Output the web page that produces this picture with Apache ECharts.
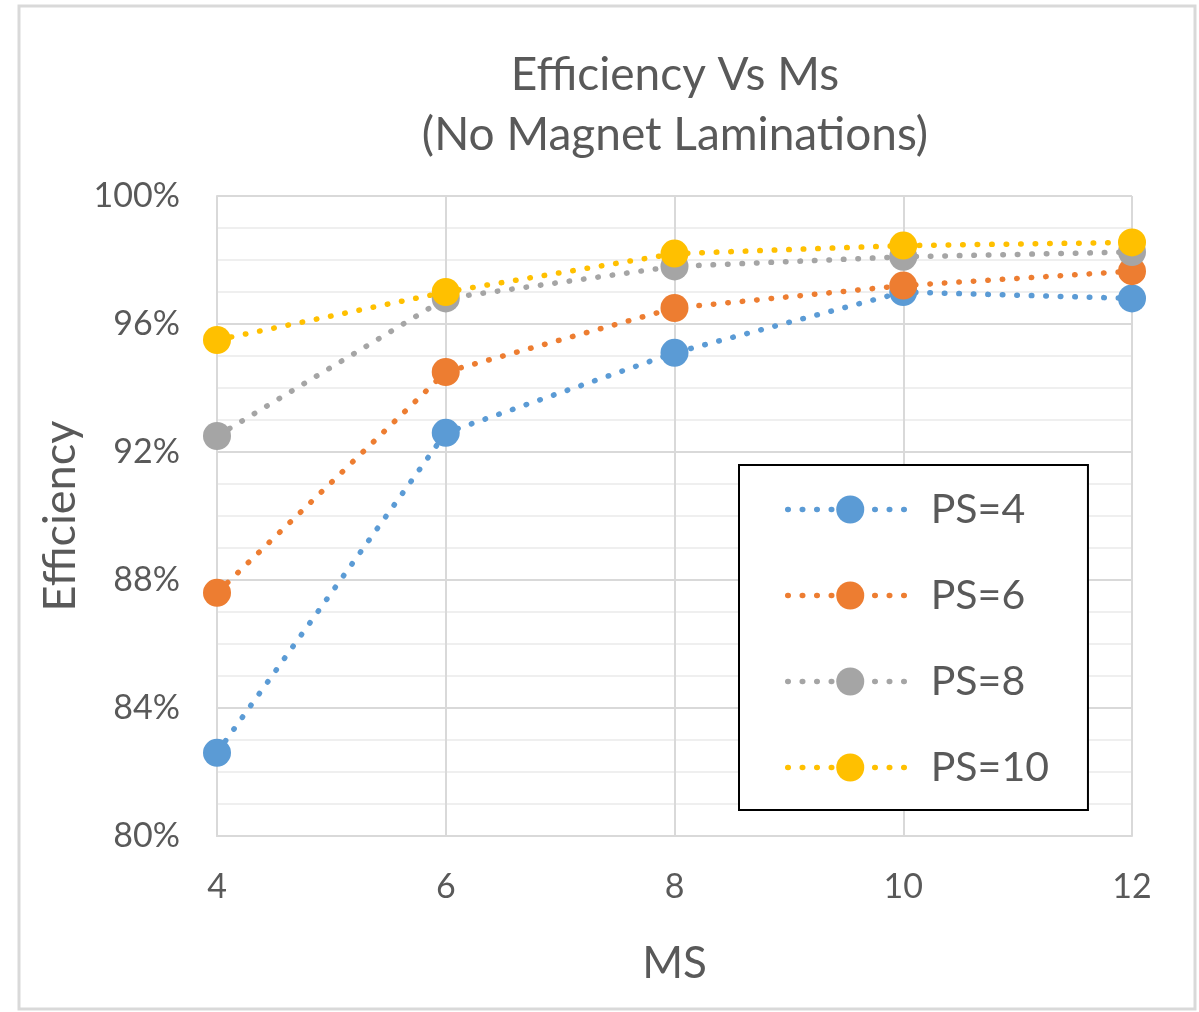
<!DOCTYPE html>
<html>
<head>
<meta charset="utf-8">
<script src="https://cdn.jsdelivr.net/npm/echarts@6/dist/echarts.min.js"></script>
<style>
  html, body { margin: 0; padding: 0; background: #fff; }
  #chart { width: 1199px; height: 1012px; }
</style>
</head>
<body>
<div id="chart"></div>
<script>
// MS values on the x axis
const msValues = [4, 6, 8, 10, 12];
// Efficiency (%) for each PS setting
const ps4 = [82.6, 92.6, 95.1, 97.0, 96.8];
const ps6 = [87.6, 94.5, 96.5, 97.2, 97.65];
const ps8 = [92.5, 96.8, 97.8, 98.1, 98.25];
const ps10 = [95.5, 97.0, 98.2, 98.45, 98.55];
const seriesNames = ['PS=4', 'PS=6', 'PS=8', 'PS=10'];
const seriesColors = ['#5B9BD5', '#ED7D31', '#A5A5A5', '#FFC000'];

const FONT = 'Lato, "Open Sans", sans-serif';
const TEXT = '#595959';
const GRID = '#d9d9d9';

const allSeries = [ps4, ps6, ps8, ps10];

const chart = echarts.init(document.getElementById('chart'));
chart.setOption({
  backgroundColor: '#fff',
  animation: false,
  title: {
    text: 'Efficiency Vs Ms\n(No Magnet Laminations)',
    left: 670,
    top: 40,
    textAlign: 'center',
    textStyle: {
      fontFamily: FONT,
      fontWeight: 'normal',
      fontSize: 46,
      lineHeight: 60,
      color: TEXT
    }
  },
  graphic: [{
    type: 'rect',
    shape: { x: 19, y: 6, width: 1176, height: 1003 },
    style: { fill: 'none', stroke: GRID, lineWidth: 3 },
    silent: true,
    z: -1
  }],
  grid: { left: 217, right: 67, top: 196, bottom: 176 },
  legend: {
    orient: 'vertical',
    left: 739,
    top: 465,
    padding: [24, 39, 22, 46],
    itemWidth: 125,
    itemHeight: 35,
    itemGap: 45,
    borderColor: '#000',
    borderWidth: 2,
    backgroundColor: '#fff',
    data: seriesNames,
    lineStyle: { width: 5.5, type: [0.5, 14], cap: 'round' },
    textStyle: {
      fontFamily: FONT,
      fontSize: 41,
      color: TEXT,
      padding: [0, 0, 0, 13]
    }
  },
  xAxis: {
    type: 'value',
    min: 4,
    max: 12,
    interval: 2,
    name: 'MS',
    nameLocation: 'middle',
    nameGap: 106,
    nameTextStyle: { fontFamily: FONT, fontSize: 44, color: TEXT },
    axisLine: { show: true, lineStyle: { color: GRID, width: 2 } },
    axisTick: { show: false },
    axisLabel: { fontFamily: FONT, fontSize: 34, color: TEXT, margin: 34 },
    splitLine: { show: true, lineStyle: { color: GRID, width: 2 } }
  },
  yAxis: {
    type: 'value',
    min: 80,
    max: 100,
    interval: 4,
    name: 'Efficiency',
    nameLocation: 'middle',
    nameGap: 134,
    nameTextStyle: { fontFamily: FONT, fontSize: 45, color: TEXT },
    axisLine: { show: true, lineStyle: { color: GRID, width: 2 } },
    axisTick: { show: false },
    axisLabel: {
      fontFamily: FONT, fontSize: 34, color: TEXT, margin: 37,
      formatter: '{value}%'
    },
    splitLine: { show: true, lineStyle: { color: GRID, width: 2 } },
    minorTick: { show: false, splitNumber: 4 },
    minorSplitLine: { show: true, lineStyle: { color: '#efefef', width: 2 } }
  },
  series: allSeries.map((vals, i) => ({
    name: seriesNames[i],
    type: 'line',
    data: msValues.map((m, j) => [m, vals[j]]),
    symbol: 'circle',
    symbolSize: 28,
    itemStyle: { color: seriesColors[i] },
    lineStyle: {
      color: seriesColors[i],
      width: 5.5,
      type: [0.5, 14],
      cap: 'round'
    },
    z: 2 + i
  }))
});
</script>
</body>
</html>
